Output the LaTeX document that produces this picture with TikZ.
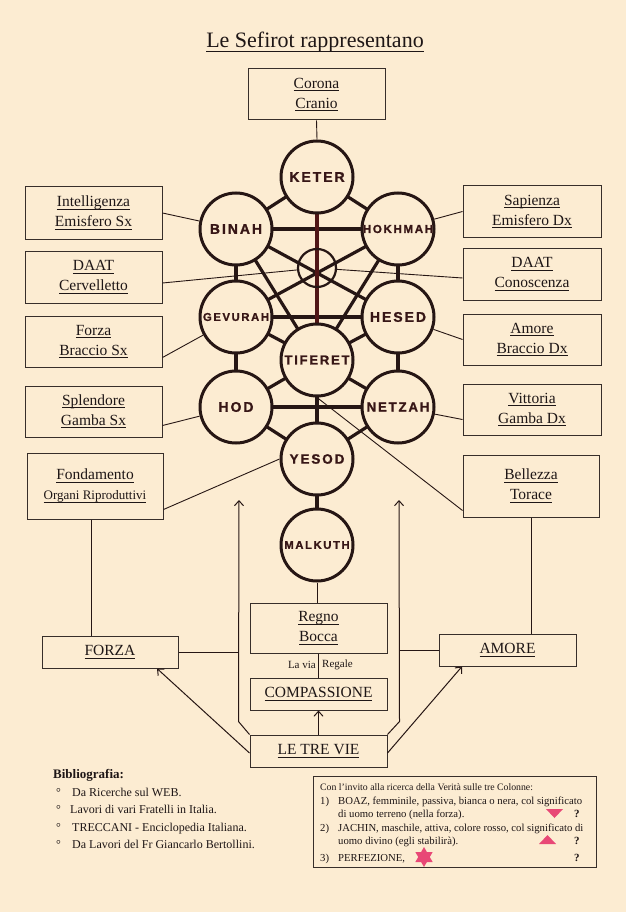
\documentclass[tikz,border=0pt]{standalone}
\usepackage{fontspec}
\setmainfont{Liberation Serif}
\newfontfamily\sefont{Liberation Sans}[LetterSpace=14, BoldFeatures={FakeBold=1.2}]
\usetikzlibrary{arrows.meta}
\pgfdeclarelayer{bg}
\pgfdeclarelayer{edges}
\pgfsetlayers{bg,edges,main}
\definecolor{paper}{RGB}{252,236,210}
\definecolor{ink}{RGB}{38,22,20}
\definecolor{maroon}{RGB}{80,22,22}
\definecolor{lbl}{RGB}{55,22,22}
\definecolor{boxc}{RGB}{55,46,42}
\definecolor{txt}{RGB}{30,22,22}
\definecolor{pinkc}{RGB}{232,72,118}
\newcommand\uln[1]{\setbox0=\hbox{#1}\rlap{\rule[-0.19em]{\wd0}{0.06em}}\box0}
\newcommand\lb[1]{\makebox[0pt]{#1}}
\begin{document}
\begin{tikzpicture}[x=1pt,y=-1pt,
  sef/.style={circle, draw=ink, line width=3pt, fill=paper, minimum size=72pt, inner sep=0pt, text=lbl},
  sefs/.style={font=\sefont\bfseries\fontsize{#1}{#1}\selectfont},
  thk/.style={draw=ink, line width=3.2pt},
  thin/.style={draw=ink, line width=0.9pt},
  box/.style={draw=boxc, line width=1pt, align=center, inner sep=0pt, text=txt, font=\fontsize{15.5}{20}\selectfont},
  arr/.style={draw=ink, line width=1pt, -{Straight Barb[length=5pt,width=9pt]}},
  small/.style={text=txt, font=\fontsize{11}{11}\selectfont, inner sep=0pt},
  note/.style={text=txt, font=\fontsize{10.7}{12}\selectfont, inner sep=0pt, anchor=base west},
  bib/.style={text=txt, font=\fontsize{12}{12}\selectfont, inner sep=0pt, anchor=base west}
]
\begin{pgfonlayer}{bg}
\fill[paper] (0,0) rectangle (626,912);
\end{pgfonlayer}
\useasboundingbox (0,0) rectangle (626,912);

% title
\node[anchor=base, inner sep=0pt, text=txt, font=\fontsize{22}{22}\selectfont] (title) at (315,48) {\uln{Le Sefirot rappresentano}};

% sefirot
\node[sef, sefs=14] (ket) at (317,177) {\lb{KETER}};
\node[sef, sefs=14] (bin) at (236,229) {\lb{BINAH}};
\node[sef, sefs=11.6] (hok) at (398,229) {\lb{HOKHMAH}};
\node[circle, draw=ink, line width=2.2pt, minimum size=38pt, inner sep=0pt] (daat) at (317,268) {};
\node[sef, sefs=11.3] (gev) at (236,317) {\lb{GEVURAH}};
\node[sef, sefs=14] (hes) at (398,317) {\lb{HESED}};
\node[sef, sefs=13] (tif) at (317,360) {\lb{TIFERET}};
\node[sef, sefs=14] (hod) at (236,407) {\lb{HOD}};
\node[sef, sefs=13.2] (net) at (398,407) {\lb{NETZAH}};
\node[sef, sefs=13.5] (yes) at (317,459) {\lb{YESOD}};
\node[sef, sefs=11.3] (mal) at (317,545) {\lb{MALKUTH}};

\begin{pgfonlayer}{edges}
\foreach \a/\b in {ket/bin, ket/hok, bin/hok, bin/gev, hok/hes, bin/tif, hok/tif, bin/hes, hok/gev, gev/hes, gev/tif, hes/tif, gev/hod, hes/net, hod/tif, net/tif, hod/net, tif/yes, hod/yes, net/yes, yes/mal}
  \draw[thk] (\a.center) -- (\b.center);
\draw[thk, draw=maroon] (ket.center) -- (tif.center);
\end{pgfonlayer}

% boxes
\node[box, minimum width=137pt, minimum height=51pt] (cor) at (316.5,94.5) {\uln{Corona}\\\uln{Cranio}};
\node[box, minimum width=137pt, minimum height=52pt] (intel) at (93.5,213) {\uln{Intelligenza}\\\uln{Emisfero Sx}};
\node[box, minimum width=137pt, minimum height=52pt] (daatL) at (93.5,277) {\uln{DAAT}\\\uln{Cervelletto}};
\node[box, minimum width=137pt, minimum height=51pt] (forzaB) at (93.5,341.5) {\uln{Forza}\\\uln{Braccio Sx}};
\node[box, minimum width=137pt, minimum height=51pt] (splen) at (93.5,411.5) {\uln{Splendore}\\\uln{Gamba Sx}};
\node[box, minimum width=138pt, minimum height=51pt] (sap) at (532,211.5) {\uln{Sapienza}\\\uln{Emisfero Dx}};
\node[box, minimum width=138pt, minimum height=52pt] (daatR) at (532,274) {\uln{DAAT}\\\uln{Conoscenza}};
\node[box, minimum width=138pt, minimum height=51pt] (amB) at (532,339.5) {\uln{Amore}\\\uln{Braccio Dx}};
\node[box, minimum width=138pt, minimum height=51pt] (vit) at (532,409.5) {\uln{Vittoria}\\\uln{Gamba Dx}};
\node[box, minimum width=136pt, minimum height=66pt] (fond) at (95,486) {\uln{Fondamento}\\{\fontsize{13}{20}\selectfont\uln{Organi Riproduttivi}}};
\node[box, minimum width=136pt, minimum height=62pt] (bel) at (531,486) {\uln{Bellezza}\\\uln{Torace}};
\node[box, minimum width=136pt, minimum height=32pt] (forza) at (110,652) {\uln{FORZA}};
\node[box, minimum width=137pt, minimum height=32pt] (amore) at (507.5,650) {\uln{AMORE}};
\node[box, minimum width=137pt, minimum height=50pt] (regno) at (318.5,628) {\uln{Regno}\\\uln{Bocca}};
\node[box, minimum width=137pt, minimum height=32pt] (comp) at (318.5,694) {\uln{COMPASSIONE}};
\node[box, minimum width=137pt, minimum height=32pt] (tre) at (318.5,751) {\uln{LE TRE VIE}};
\node[small, anchor=east] (lavia) at (316,665) {La via};
\node[small, anchor=west] (regale) at (322,665) {Regale};

% thin connectors
\draw[thin] (cor.south) -- (ket.north);
\draw[thin] (intel.east) -- (bin);
\draw[thin] ([yshift=-6pt]daatL.east) -- (daat);
\draw[thin] ([yshift=-16pt]forzaB.east) -- (gev);
\draw[thin] ([yshift=-14pt]splen.east) -- (hod);
\draw[thin] (sap.west) -- (hok);
\draw[thin] ([yshift=-4pt]daatR.west) -- (daat);
\draw[thin] (amB.west) -- (hes);
\draw[thin] ([yshift=-10pt]vit.west) -- (net);
\draw[thin] ([yshift=10pt]fond.south east) -- (yes.west);
\draw[thin] (tif.south) -- ([yshift=7pt]bel.south west);
\draw[thin] ([xshift=-4pt]fond.south) -- ([xshift=-4pt]fond.south |- forza.north);
\draw[thin] (bel.south) -- (bel.south |- amore.north);
\draw[thin] (mal.south) -- (mal.south |- regno.north);
\draw[thin] (regno.south) -- (regno.south |- comp.north);

% three ways
\coordinate (lt) at (239,500);
\coordinate (rt) at (399,500);
\draw[arr] (tre.north west) -- ++(-11,-13) -- (lt);
\draw[arr] (tre.north east) -- ++(12,-13) -- (rt);
\draw[thin] (forza.east) -- (forza.east -| lt);
\draw[thin] (amore.west) -- (amore.west -| rt);
\draw[arr] (tre.north) -- (comp.south);
\draw[arr] ([yshift=-2pt]tre.west) -- ([xshift=47pt]forza.south);
\draw[arr] ([yshift=-2pt]tre.east) -- ([xshift=-45.5pt]amore.south);

% bibliography
\node[text=txt, font=\fontsize{13}{13}\selectfont\bfseries, inner sep=0pt, anchor=base west] (bibt) at (53,778) {Bibliografia:};
\node[bib] (b1d) at (56,796) {°};
\node[bib] (b1) at (72,796) {Da Ricerche sul WEB.};
\node[bib] (b2d) at (56,813) {°};
\node[bib] (b2) at (70,813) {Lavori di vari Fratelli in Italia.};
\node[bib] (b3d) at (56,831) {°};
\node[bib] (b3) at (72,831) {TRECCANI - Enciclopedia Italiana.};
\node[bib] (b4d) at (56,848) {°};
\node[bib] (b4) at (72,848) {Da Lavori del Fr Giancarlo Bertollini.};

% note box
\node[draw=boxc, line width=1pt, minimum width=283pt, minimum height=91pt, inner sep=0pt] (notebox) at (454.5,821.5) {};
\node[note, font=\fontsize{9.8}{12}\selectfont] (n0) at (320,790) {Con l’invito alla ricerca della Verità sulle tre Colonne:};
\node[note] (n1a) at (320,804) {1)};
\node[note] (n1) at (338,804) {BOAZ, femminile, passiva, bianca o nera, col significato};
\node[note] (n1b) at (338,817) {di uomo terreno (nella forza).};
\node[note] (n2a) at (320,831) {2)};
\node[note] (n2) at (338,831) {JACHIN, maschile, attiva, colore rosso, col significato di};
\node[note] (n2b) at (338,844) {uomo divino (egli stabilirà).};
\node[note] (n3a) at (320,861) {3)};
\node[note] (n3) at (338,861) {PERFEZIONE,};
\node[note, font=\fontsize{11}{12}\selectfont\bfseries] (q1) at (574,817) {?};
\node[note, font=\fontsize{11}{12}\selectfont\bfseries] (q2) at (574,844) {?};
\node[note, font=\fontsize{11}{12}\selectfont\bfseries] (q3) at (574,861) {?};
\fill[pinkc] (546,809) -- (563,809) -- (554.5,818) -- cycle;
\fill[pinkc] (539,844) -- (556,844) -- (547.5,835) -- cycle;
\fill[pinkc, shift={(424,857)}] (90:10) -- (210:10) -- (330:10) -- cycle;
\fill[pinkc, shift={(424,857)}] (270:10) -- (30:10) -- (150:10) -- cycle;
\end{tikzpicture}
\end{document}
